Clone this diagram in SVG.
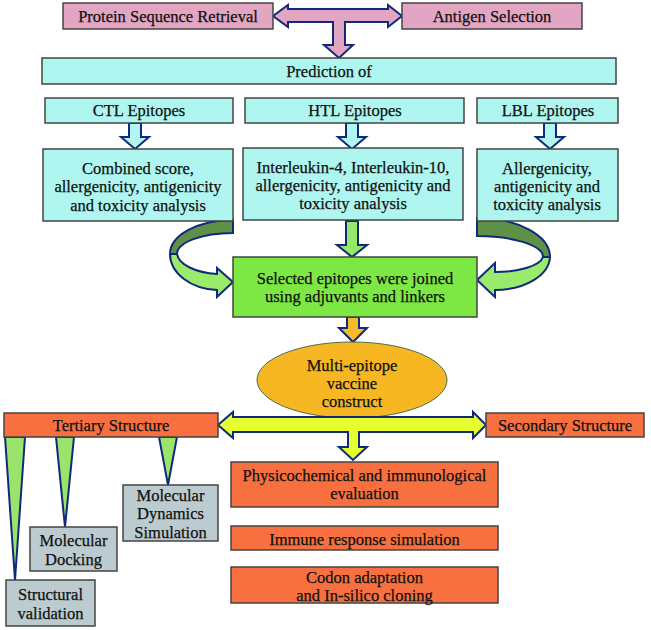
<svg xmlns="http://www.w3.org/2000/svg" width="651" height="630" viewBox="0 0 651 630">
<style>
text{font-family:"Liberation Serif","Times New Roman",serif;font-size:16.5px;fill:#111;text-anchor:middle;stroke:#111;stroke-width:0.25}
.box{stroke:#444;stroke-width:1.5}
.pink{fill:#e2a6c2}
.cyan{fill:#aef6ef}
.green{fill:#7de843}
.orange{fill:#f97040}
.gray{fill:#bccbcf}
.arr{stroke:#10297a;stroke-width:2;stroke-linejoin:miter}
</style>
<g id="connectors">
<path class="arr" fill="#e2a6c2" d="M273,16 L288,5 L288,9 L388,9 L388,5 L402,16 L388,27 L388,22 L345,22 L345,45 L353,45 L339,58 L324,45 L333,45 L333,22 L288,22 L288,27 Z"/>
<path class="arr" fill="#b2f6f2" d="M129,123 L141,123 L141,137 L149,137 L135,149 L121,137 L129,137 Z"/>
<path class="arr" fill="#b2f6f2" d="M346,123 L358,123 L358,137 L366,137 L352,149 L338,137 L346,137 Z"/>
<path class="arr" fill="#b2f6f2" d="M544,123 L556,123 L556,137 L564,137 L550,149 L536,137 L544,137 Z"/>
<path class="arr" fill="#95e868" d="M346,221 L358,221 L358,245 L367,245 L352,257 L337,245 L346,245 Z"/>
<path class="arr" fill="#5f9048" d="M233,220 A63,34 0 0 0 170,254 L177,254 A56,21 0 0 1 233,233 Z"/>
<path class="arr" fill="#9aea6c" d="M170,254 A50,36 0 0 0 217,290 L217,297 L233,282 L217,268 L217,274 A45,22 0 0 1 177,254 Z"/>
<path class="arr" fill="#5f9048" d="M477,218 A73,39 0 0 1 550,257 L543,257 A66,21 0 0 0 477,236 Z"/>
<path class="arr" fill="#9aea6c" d="M550,257 A55,34 0 0 1 495,290 L495,297 L477,280 L495,263 L495,272 A48,17 0 0 0 543,257 Z"/>
<path class="arr" fill="#f6bb2a" d="M347,317 L359,317 L359,328 L367,328 L353,342 L339,328 L347,328 Z"/>
</g>
<g id="n-protein"><rect class="box pink" x="63" y="3" width="210" height="26"/><text x="168" y="21.5">Protein Sequence Retrieval</text></g>
<g id="n-antigen"><rect class="box pink" x="402" y="3" width="180" height="26"/><text x="492" y="21.5">Antigen Selection</text></g>
<g id="n-prediction"><rect class="box cyan" x="42" y="58" width="574" height="26"/><text x="329" y="77">Prediction of</text></g>
<g id="n-ctl"><rect class="box cyan" x="45" y="98" width="188" height="25"/><text x="139" y="116">CTL Epitopes</text></g>
<g id="n-htl"><rect class="box cyan" x="245" y="98" width="219" height="25"/><text x="355" y="116">HTL Epitopes</text></g>
<g id="n-lbl"><rect class="box cyan" x="477" y="98" width="141" height="25"/><text x="548" y="116">LBL Epitopes</text></g>
<g id="n-ctl-analysis"><rect class="box cyan" x="43" y="149" width="190" height="72"/><text x="138" y="173.5">Combined score,</text><text x="138" y="192">allergenicity, antigenicity</text><text x="138" y="210.5">and toxicity analysis</text></g>
<g id="n-htl-analysis"><rect class="box cyan" x="243" y="148" width="220" height="72"/><text x="353" y="173">Interleukin-4, Interleukin-10,</text><text x="353" y="191">allergenicity, antigenicity and</text><text x="353" y="209">toxicity analysis</text></g>
<g id="n-lbl-analysis"><rect class="box cyan" x="477" y="149" width="141" height="72"/><text x="547" y="173.5">Allergenicity,</text><text x="547" y="191.5">antigenicity and</text><text x="547" y="209.5">toxicity analysis</text></g>
<g id="n-selected"><rect class="box green" x="233" y="257" width="244" height="60"/><text x="355" y="283.5">Selected epitopes were joined</text><text x="355" y="302">using adjuvants and linkers</text></g>
<g id="n-vaccine"><ellipse cx="352" cy="380" rx="95" ry="38" fill="#f7b722" stroke="#4f6b4a" stroke-width="1"/><text x="352" y="371">Multi-epitope</text><text x="352" y="389">vaccine</text><text x="352" y="407">construct</text></g>
<g id="connectors2">
<path class="arr" fill="#e6ff2e" d="M218,425 L233,412 L233,417 L473,417 L473,412 L486,425 L473,438 L473,432 L359,432 L359,447 L367,447 L353,460 L339,447 L348,447 L348,432 L233,432 L233,438 Z"/>
<path class="arr" fill="#9be46c" d="M5,437 L25,437 L15,580 Z"/>
<path class="arr" fill="#9be46c" d="M56,437 L74,437 L65,527 Z"/>
<path class="arr" fill="#9be46c" d="M159,437 L177,437 L168,485 Z"/>
</g>
<g id="n-tertiary"><rect class="box orange" x="4" y="413" width="214" height="24"/><text x="111" y="430.5">Tertiary Structure</text></g>
<g id="n-secondary"><rect class="box orange" x="486" y="413" width="158" height="24"/><text x="565" y="430.5">Secondary Structure</text></g>
<g id="n-physico"><rect class="box orange" x="231" y="462" width="267" height="45"/><text x="364.5" y="480.5">Physicochemical and immunological</text><text x="364.5" y="499">evaluation</text></g>
<g id="n-immune"><rect class="box orange" x="231" y="526" width="267" height="24"/><text x="364.5" y="544.5">Immune response simulation</text></g>
<g id="n-codon"><rect class="box orange" x="231" y="567" width="267" height="36"/><text x="364.5" y="582.5">Codon adaptation</text><text x="364.5" y="600.5">and In-silico cloning</text></g>
<g id="n-md"><rect class="box gray" x="123" y="485" width="95" height="56"/><text x="170.5" y="500.5">Molecular</text><text x="170.5" y="519">Dynamics</text><text x="170.5" y="537.5">Simulation</text></g>
<g id="n-docking"><rect class="box gray" x="30" y="527" width="87" height="44"/><text x="73.5" y="545.5">Molecular</text><text x="73.5" y="564.5">Docking</text></g>
<g id="n-structural"><rect class="box gray" x="6" y="580" width="89" height="46"/><text x="50.5" y="600">Structural</text><text x="50.5" y="618.5">validation</text></g>
</svg>
